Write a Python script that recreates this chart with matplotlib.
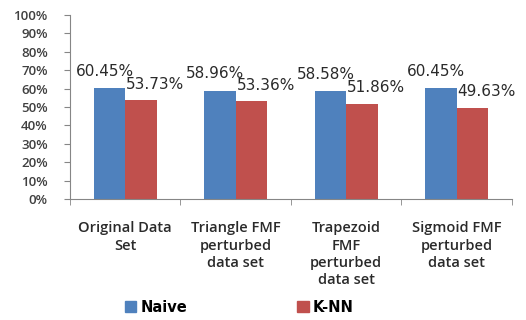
import matplotlib.pyplot as plt
import numpy as np
from matplotlib.patches import Patch

categories = ["Original Data\nSet", "Triangle FMF\nperturbed\ndata set",
              "Trapezoid\nFMF\nperturbed\ndata set", "Sigmoid FMF\nperturbed\ndata set"]
naive = [60.45, 58.96, 58.58, 60.45]
knn = [53.73, 53.36, 51.86, 49.63]
series_names = ["Naive", "K-NN"]
yticks = [0, 10, 20, 30, 40, 50, 60, 70, 80, 90, 100]

blue = "#4F81BD"
red = "#C0504D"
axis_gray = "#868686"
text_color = "#404040"

plt.rcParams['font.family'] = ['Open Sans', 'DejaVu Sans']

fig = plt.figure(figsize=(5.26, 3.2), dpi=100)
ax = fig.add_axes([0.133, 0.378, 0.840, 0.575])

x = np.arange(len(categories))
w = 0.285
ax.bar(x - w / 2, naive, w, color=blue, zorder=2)
ax.bar(x + w / 2, knn, w, color=red, zorder=2)

for xi, v in zip(x - w / 2, naive):
    ax.text(xi - 0.04, v + 5, f"{v:.2f}%", ha="center", va="bottom", fontsize=11,
            color="#2a2a2a", family="DejaVu Sans")
for xi, v in zip(x + w / 2, knn):
    ax.text(xi + 0.13, v + 4.5, f"{v:.2f}%", ha="center", va="bottom", fontsize=11,
            color="#2a2a2a", family="DejaVu Sans")

ax.set_xlim(-0.5, len(categories) - 0.5)
ax.set_ylim(0, 100)
ax.set_yticks(yticks)
ax.set_yticklabels([f"{t}%" for t in yticks], fontsize=9.5, color=text_color,
                   fontweight="semibold")

ax.set_xticks(x)
ax.set_xticklabels(categories, fontsize=10.5, color="#2a2a2a", linespacing=1.3,
                   fontweight="semibold")
ax.tick_params(axis="x", length=0, pad=16)
ax.set_xticks(np.arange(-0.5, len(categories)), minor=True)
ax.tick_params(axis="x", which="minor", length=4, color=axis_gray)
ax.tick_params(axis="y", length=4, color=axis_gray, pad=12)

for s in ["top", "right"]:
    ax.spines[s].set_visible(False)
for s in ["left", "bottom"]:
    ax.spines[s].set_color(axis_gray)

handles = [Patch(color=blue), Patch(color=red)]
fig.legend(handles, series_names, loc="lower center", bbox_to_anchor=(0.455, -0.025),
           ncol=2, frameon=False, columnspacing=7.5,
           handlelength=0.8, handleheight=0.8, handletextpad=0.3,
           prop={"weight": "bold", "size": 10.5, "family": "DejaVu Sans"})

fig.savefig("out.png", dpi=100)
